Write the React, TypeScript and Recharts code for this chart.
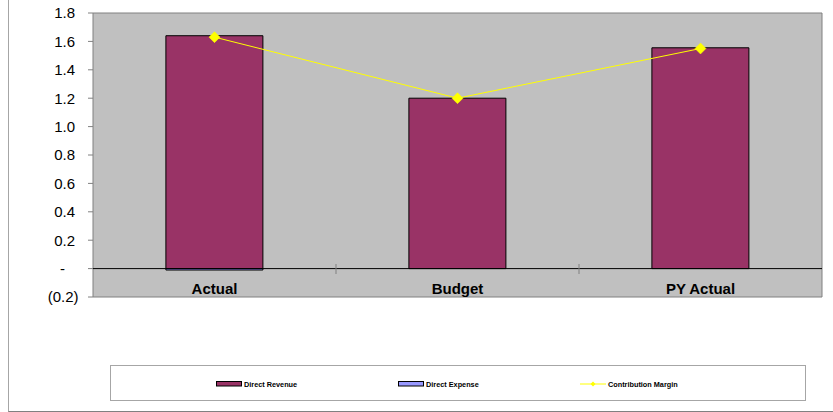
import React from 'react';
import { ComposedChart, Bar, Line, XAxis, YAxis, CartesianGrid, ReferenceLine, ReferenceArea, Legend } from 'recharts';

const categories = ['Actual', 'Budget', 'PY Actual'];
const directRevenue = [1.64, 1.2, 1.555];
const directExpense = [-0.01, 0, 0];
const contributionMargin = [1.63, 1.2, 1.55];
const yTicks = [-0.2, 0, 0.2, 0.4, 0.6, 0.8, 1.0, 1.2, 1.4, 1.6, 1.8];
const legendOrder = ['Direct Revenue', 'Direct Expense', 'Contribution Margin'];

const data = categories.map((c, i) => ({
  name: c,
  rev: directRevenue[i],
  exp: directExpense[i],
  cm: contributionMargin[i],
}));

const FONT = '"Liberation Sans", Arial, sans-serif';
const REV_COLOR = '#993366';
const EXP_COLOR = '#9999FF';
const CM_COLOR = '#FFFF00';

const YTick = (props: any) => {
  const { x, y, payload } = props;
  const v = payload.value;
  let label: string;
  let dx = 0;
  if (Math.abs(v) < 1e-9) {
    label = '-';
    dx = -10;
  } else if (v < 0) {
    label = `(${Math.abs(v).toFixed(1)})`;
    dx = 3.5;
  } else {
    label = v.toFixed(1);
  }
  return (
    <text x={x + dx} y={y} dy="0.36em" textAnchor="end" fontSize={15} fontFamily={FONT} fill="#000">
      {label}
    </text>
  );
};

const XTick = (props: any) => {
  const { x, y, payload, index } = props;
  const off = payload && typeof payload.offset === 'number' ? payload.offset : null;
  return (
    <g>
      <text x={x} y={y - 3} textAnchor="middle" fontSize={15} fontWeight="bold" fontFamily={FONT} fill="#000">
        {payload.value}
      </text>
      {off !== null && index < categories.length - 1 && (
        <line x1={x + off} x2={x + off} y1={y - 33} y2={y - 23} stroke="#808080" strokeWidth={1} />
      )}
    </g>
  );
};

const Diamond = (props: any) => {
  const { cx, cy } = props;
  if (cx == null || cy == null) return null;
  const r = 5.5;
  return (
    <polygon
      points={`${cx},${cy - r} ${cx + r},${cy} ${cx},${cy + r} ${cx - r},${cy}`}
      fill={CM_COLOR}
      stroke={CM_COLOR}
      strokeWidth={0.5}
    />
  );
};

const LegendContent = (props: any) => {
  const payload = [...(props.payload || [])].sort(
    (a: any, b: any) => legendOrder.indexOf(a.value) - legendOrder.indexOf(b.value)
  );
  return (
    <div
      style={{
        width: 696,
        height: 36,
        boxSizing: 'border-box',
        border: '1px solid #A6A6A6',
        background: '#fff',
        position: 'relative',
        fontFamily: FONT,
        fontSize: 7.3,
        fontWeight: 'bold',
        color: '#000',
      }}
    >
      {payload.map((p: any, i: number) => {
        const isLine = p.type === 'line';
        return (
          <div
            key={i}
            style={{
              position: 'absolute',
              left: 105 + i * 182,
              top: 12,
              height: 12,
              display: 'flex',
              alignItems: 'center',
              whiteSpace: 'nowrap',
            }}
          >
            <svg width={27} height={12} style={{ display: 'block' }}>
              {isLine ? (
                <g>
                  <line x1={0} x2={26} y1={6} y2={6} stroke={CM_COLOR} strokeWidth={1} />
                  <polygon points="13,3.5 15.5,6 13,8.5 10.5,6" fill={CM_COLOR} />
                </g>
              ) : (
                <rect x={0.5} y={3.5} width={25} height={4.5} fill={p.color} stroke="#000" strokeWidth={1} />
              )}
            </svg>
            <span style={{ marginLeft: 1 }}>{p.value}</span>
          </div>
        );
      })}
    </div>
  );
};

export default function App() {
  return (
    <div style={{ position: 'absolute', left: 0, top: 0, width: 833, height: 412 }}>
      <div
        style={{
          position: 'absolute',
          left: 8,
          top: 0,
          width: 824,
          height: 411,
          borderLeft: '1px solid #A6A6A6',
          borderBottom: '1px solid #808080',
        }}
      />
      <ComposedChart
        width={833}
        height={412}
        data={data}
        margin={{ top: 13, right: 11, left: 33, bottom: 95 }}
        barCategoryGap="30%"
        stackOffset="sign"
      >
        <CartesianGrid horizontal={false} vertical={false} fill="#C0C0C0" fillOpacity={1} />
        <XAxis
          dataKey="name"
          axisLine={false}
          tickLine={false}
          tickSize={0}
          tickMargin={0}
          height={20}
          tick={<XTick />}
          interval={0}
        />
        <YAxis
          type="number"
          domain={[-0.2, 1.8]}
          ticks={yTicks}
          width={60}
          axisLine={false}
          tickSize={5}
          tickMargin={13}
          tickLine={{ stroke: '#808080' }}
          tick={<YTick />}
          interval={0}
          allowDataOverflow
        />
        <ReferenceArea y1={-0.2} y2={1.8} fill="none" stroke="#808080" strokeWidth={1} ifOverflow="extendDomain" />
        <Bar dataKey="rev" name="Direct Revenue" stackId="a" fill={REV_COLOR} stroke="#000" strokeWidth={1} isAnimationActive={false} />
        <Bar dataKey="exp" name="Direct Expense" stackId="a" fill={EXP_COLOR} stroke="#000" strokeWidth={1} isAnimationActive={false} />
        <ReferenceLine y={0} stroke="#000" strokeWidth={1} />
        <Line
          dataKey="cm"
          name="Contribution Margin"
          type="linear"
          stroke={CM_COLOR}
          strokeWidth={1}
          dot={<Diamond />}
          activeDot={false}
          isAnimationActive={false}
        />
        <Legend
          layout="horizontal"
          verticalAlign="middle"
          align="center"
          content={<LegendContent />}
          wrapperStyle={{ position: 'absolute', left: 110, top: 365, width: 696, height: 36 }}
        />
      </ComposedChart>
    </div>
  );
}
